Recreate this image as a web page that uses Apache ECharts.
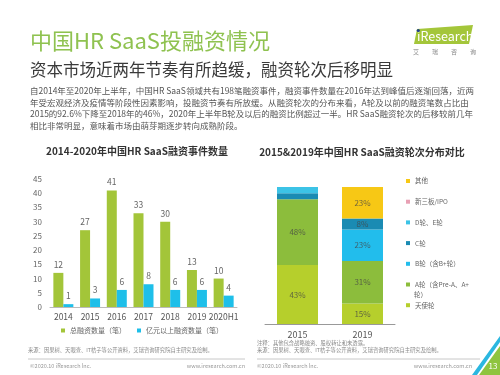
<!DOCTYPE html>
<html>
<head>
<meta charset="utf-8">
<script src="https://cdn.jsdelivr.net/npm/echarts@6/dist/echarts.min.js"></script>
<style>
  html, body { margin: 0; padding: 0; background: #fff; }
  #chart { width: 500px; height: 375px; }
</style>
</head>
<body>
<div id="chart"></div>
<script>
// 左图：融资事件数量
var years = ['2014', '2015', '2016', '2017', '2018', '2019', '2020H1'];
var totalDeals = [12, 27, 41, 33, 30, 13, 10];
var bigDeals = [1, 3, 6, 8, 6, 6, 4];
var yTicks = [0, 45, 5]; // min, max, interval

// 右图：融资轮次分布 (%)
var roundYears = ['2015', '2019'];
var angel = [43, 15];
var roundA = [48, 31];
var roundB = [0, 23];
var roundC = [4.5, 8];
var roundDE = [4.5, 0];
var ipo = [0, 0];
var other = [0, 23];

var FONT = '"Noto Sans CJK SC", "Noto Sans", sans-serif';

var paragraph = [
  '自2014年至2020年上半年，中国HR SaaS领域共有198笔融资事件，融资事件数量在2016年达到峰值后逐渐回落，近两',
  '年受宏观经济及疫情等阶段性因素影响，投融资节奏有所放缓。从融资轮次的分布来看，A轮及以前的融资笔数占比由',
  '2015的92.6%下降至2018年的46%，2020年上半年B轮及以后的融资比例超过一半。HR SaaS融资轮次的后移较前几年',
  '相比非常明显，意味着市场由萌芽期逐步转向成熟阶段。'
];

function txt(x, y, text, size, color, extra) {
  var style = { text: text, fontSize: size, fontFamily: FONT, fill: color, verticalAlign: 'middle', align: 'left' };
  for (var k in extra) style[k] = extra[k];
  return { type: 'text', x: x, y: y, style: style, silent: true };
}

var chart = echarts.init(document.getElementById('chart'));

function stackSeries(name, data, color) {
  return {
    name: name, type: 'bar', stack: 'r', xAxisIndex: 1, yAxisIndex: 1,
    barWidth: 41, data: data,
    itemStyle: { color: color },
    label: {
      show: true, position: 'inside', fontSize: 8, fontFamily: FONT,
      color: 'rgba(70,70,70,0.75)',
      formatter: function (p) { return p.value >= 8 ? p.value + '%' : ''; }
    }
  };
}

var graphics = [
  txt(30, 40.5, '中国HR SaaS投融资情况', 22, '#8fc250'),
  txt(30, 69.5, '资本市场近两年节奏有所趋缓，融资轮次后移明显', 16.5, '#3a3a3a'),
  txt(30, 85.5, paragraph.join('\n'), 8.5, '#555', { verticalAlign: 'top', lineHeight: 11.4 }),
  txt(137, 151, '2014-2020年中国HR SaaS融资事件数量', 10, '#333', { align: 'center', fontWeight: 'bold' }),
  txt(362, 152, '2015&2019年中国HR SaaS融资轮次分布对比', 10, '#333', { align: 'center', fontWeight: 'bold' }),
  txt(414, 294.5, '轮）', 6.5, '#666'),
  // logo
  { type: 'polygon', silent: true, shape: { points: [[417, 29], [473, 25], [469, 44], [414, 44]] }, style: { fill: '#a4c63a' } },
  txt(417, 36, 'iResearch', 12.5, '#fff'),
  { type: 'circle', silent: true, shape: { cx: 418.3, cy: 30.5, r: 1.6 }, style: { fill: '#1f3f8c' } },
  // notes & footers
  txt(28, 350, '来源：因果树、天眼查、IT桔子等公开资料，艾瑞咨询研究院自主研究及绘制。', 5.3, '#888'),
  txt(257, 343, '注释：其他包含战略融资、股权转让和未透露。', 5.3, '#888'),
  txt(257, 350, '来源：因果树、天眼查、IT桔子等公开资料，艾瑞咨询研究院自主研究及绘制。', 5.3, '#888'),
  { type: 'line', silent: true, shape: { x1: 28, y1: 359, x2: 245, y2: 359 }, style: { stroke: '#c8c8c8', lineWidth: 1 } },
  { type: 'line', silent: true, shape: { x1: 257, y1: 359, x2: 480, y2: 359 }, style: { stroke: '#c8c8c8', lineWidth: 1 } },
  txt(30, 366, '©2020.10 iResearch Inc.', 5.5, '#999'),
  txt(245, 366, 'www.iresearch.com.cn', 5.5, '#999', { align: 'right' }),
  txt(257, 366, '©2020.10 iResearch Inc.', 5.5, '#999'),
  txt(472, 366, 'www.iresearch.com.cn', 5.5, '#999', { align: 'right' }),
  { type: 'polygon', silent: true, shape: { points: [[472, 375], [500, 336], [500, 342], [477, 375]] }, style: { fill: '#2bb7e0' } },
  { type: 'polygon', silent: true, shape: { points: [[479, 375], [500, 346], [500, 375]] }, style: { fill: '#8fc43f' } },
  txt(493, 366, '13', 8, '#fff', { align: 'center' })
];
['艾', '瑞', '咨', '询'].forEach(function (c, i) {
  graphics.push(txt(416 + i * 19, 52, c, 6, '#888', { align: 'center' }));
});

chart.setOption({
  animation: false,
  textStyle: { fontFamily: FONT },
  graphic: graphics,
  grid: [
    { left: 50, right: 263, top: 179, bottom: 68 },
    { left: 265, right: 105, top: 187, bottom: 51 }
  ],
  xAxis: [
    {
      type: 'category', gridIndex: 0, data: years,
      axisLine: { lineStyle: { color: '#bbb' } }, axisTick: { show: false },
      axisLabel: { color: '#555', fontSize: 8.5, margin: 6, interval: 0 }
    },
    {
      type: 'category', gridIndex: 1, data: roundYears,
      axisLine: { lineStyle: { color: '#999' } }, axisTick: { show: false },
      axisLabel: { color: '#555', fontSize: 9, margin: 6 }
    }
  ],
  yAxis: [
    {
      type: 'value', gridIndex: 0, min: yTicks[0], max: yTicks[1], interval: yTicks[2],
      axisLine: { show: false }, axisTick: { show: false }, splitLine: { show: false },
      axisLabel: { color: '#666', fontSize: 8, margin: 8 }
    },
    { type: 'value', gridIndex: 1, min: 0, max: 100, show: false, splitLine: { show: false } }
  ],
  legend: [
    {
      left: 56, top: 322, itemWidth: 4, itemHeight: 4, itemGap: 11, icon: 'rect',
      data: ['总融资数量（笔）', '亿元以上融资数量（笔）'],
      textStyle: { fontSize: 7, color: '#666' }
    },
    {
      orient: 'vertical', left: 401, top: 171, itemWidth: 4, itemHeight: 4, itemGap: 10.7, icon: 'rect',
      data: ['其他', '新三板/IPO', 'D轮、E轮', 'C轮', 'B轮（含B+轮）', 'A轮（含Pre-A、A+轮）', '天使轮'],
      formatter: function (n) { return n === 'A轮（含Pre-A、A+轮）' ? 'A轮（含Pre-A、A+' : n; },
      textStyle: { fontSize: 6.5, color: '#666', lineHeight: 10 }
    }
  ],
  series: [
    {
      name: '总融资数量（笔）', type: 'bar', xAxisIndex: 0, yAxisIndex: 0,
      data: totalDeals, barWidth: 10, barGap: '0%',
      itemStyle: { color: '#a3c539' },
      label: { show: true, position: 'top', color: '#666', fontSize: 8.5, distance: 4 }
    },
    {
      name: '亿元以上融资数量（笔）', type: 'bar', xAxisIndex: 0, yAxisIndex: 0,
      data: bigDeals, barWidth: 10, barGap: '0%',
      itemStyle: { color: '#1ebfe9' },
      label: { show: true, position: 'top', color: '#666', fontSize: 8.5, distance: 4 }
    },
    stackSeries('天使轮', angel, '#b6cf2c'),
    stackSeries('A轮（含Pre-A、A+轮）', roundA, '#8cbd3c'),
    stackSeries('B轮（含B+轮）', roundB, '#22bdec'),
    stackSeries('C轮', roundC, '#1a8bb3'),
    stackSeries('D轮、E轮', roundDE, '#3cc3e6'),
    stackSeries('新三板/IPO', ipo, '#e8a0b4'),
    stackSeries('其他', other, '#f7c815')
  ]
});
</script>
</body>
</html>
